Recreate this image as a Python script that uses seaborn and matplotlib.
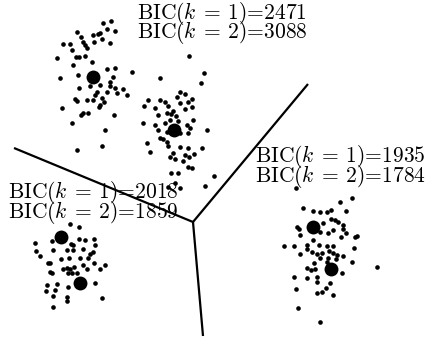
import matplotlib
matplotlib.use("Agg")
import matplotlib.pyplot as plt
import seaborn as sns
import pandas as pd

# ---- data (pixel-like coordinate space) ----
cluster_a = [(111,21),(103,23),(107,29),(115,31),(77,32),(100,33),(98,34),(93,35),(81,37),(63,44),(70,44),(83,42),
             (85,45),(102,39),(110,43),(72,50),(87,48),(76,57),(79,57),(85,56),(57,58),(92,62),(73,65),(107,69),
             (115,68),(132,72),(78,75),(60,78),(113,77),(110,82),(100,85),(90,86),(79,88),(110,86),(115,88),(123,89),
             (97,92),(107,92),(117,93),(95,95),(127,95),(75,99),(77,101),(87,100),(93,100),(102,98),(104,102),
             (100,105),(99,107),(62,108),(83,113),(88,113),(81,115),(114,115),(72,123),(105,130),(102,146),(77,150),(94,42)]
cluster_b = [(189,56),(204,73),(201,83),(160,78),(180,92),(185,94),(177,97),(192,99),(188,102),(160,100),(148,100),
             (144,106),(165,102),(168,106),(180,103),(192,107),(185,109),(173,111),(155,108),(167,113),(171,114),
             (158,115),(176,116),(178,121),(193,120),(170,120),(143,123),(155,125),(165,123),(187,125),(190,128),
             (158,130),(167,132),(207,130),(180,133),(188,133),(160,138),(163,139),(167,142),(147,143),(168,146),
             (180,147),(188,148),(202,148),(150,152),(173,153),(185,155),(194,154),(170,157),(175,159),(183,161),
             (189,157),(188,167),(192,168),(171,173),(178,173),(214,176),(175,183),(205,186),(168,187),(180,188)]
cluster_c = [(70,224),(79,227),(35,243),(52,241),(71,244),(73,245),(79,239),(85,240),(94,239),(67,250),(73,250),
             (83,249),(95,245),(36,251),(53,250),(90,254),(93,252),(40,256),(61,259),(69,258),(80,258),(88,258),
             (94,263),(48,263),(50,263),(83,265),(67,268),(63,269),(70,269),(74,267),(87,269),(100,269),(105,265),
             (50,272),(52,273),(68,273),(72,273),(77,273),(95,283),(47,285),(57,284),(68,287),(46,291),(55,290),
             (53,296),(67,297),(67,301),(102,298),(53,307)]
cluster_d = [(296,188),(352,198),(340,202),(303,208),(313,211),(320,212),(327,212),(331,210),(346,211),(297,227),
             (299,229),(323,223),(331,219),(335,220),(338,222),(343,225),(343,229),(333,230),(328,233),(320,232),
             (300,235),(313,240),(346,233),(355,237),(357,236),(341,237),(284,246),(294,246),(307,245),(319,245),
             (327,246),(333,246),(354,248),(307,249),(300,254),(312,252),(317,254),(322,253),(329,251),(333,253),
             (337,255),(343,256),(328,258),(320,258),(336,259),(327,262),(352,262),(314,263),(307,268),(311,270),
             (315,269),(294,277),(307,278),(317,277),(317,282),(342,273),(377,267),(330,283),(296,289),(326,288),
             (322,292),(317,293),(333,295),(298,308),(320,322)]
centers = [(93,77),(174,130),(61,237),(80,283),(313,227),(331,269)]

boundary_segments = [[(14,148),(193,222)], [(193,222),(308,84)], [(193,222),(203,336)]]

labels = [
    ("2471", "3088", 137, 19),
    ("1935", "1784", 255, 162),
    ("2018", "1859", 8, 198),
]

# ---- build table ----
rows = []
for name, pts in [("A", cluster_a), ("B", cluster_b), ("C", cluster_c), ("D", cluster_d)]:
    rows += [{"x": x, "y": y, "cluster": name} for x, y in pts]
pts_df = pd.DataFrame(rows)
cen_df = pd.DataFrame(centers, columns=["x", "y"])

sns.set_theme(style="white")
plt.rcParams["mathtext.fontset"] = "cm"
plt.rcParams["font.family"] = ["cmr10", "DejaVu Serif"]
plt.rcParams["axes.unicode_minus"] = False

fig = plt.figure(figsize=(4.26, 3.41), dpi=100)
ax = fig.add_axes([0, 0, 1, 1])

for seg in boundary_segments:
    seg_df = pd.DataFrame(seg, columns=["x", "y"])
    ax.plot(seg_df["x"], seg_df["y"], color="black", lw=1.6, solid_capstyle="butt")

sns.scatterplot(data=pts_df, x="x", y="y", color="black", s=11, linewidth=0, ax=ax, legend=False)
sns.scatterplot(data=cen_df, x="x", y="y", color="black", s=100, linewidth=0, ax=ax, legend=False)

for v1, v2, lx, ly in labels:
    ax.text(lx, ly, r"BIC$(k\:=\:1)$=" + v1, fontsize=15.5, color="black", va="baseline", ha="left")
    ax.text(lx, ly + 19.5, r"BIC$(k\:=\:2)$=" + v2, fontsize=15.5, color="black", va="baseline", ha="left")

ax.set_xlim(0, 426)
ax.set_ylim(341, 0)
ax.axis("off")
fig.savefig("out.png", dpi=100)
